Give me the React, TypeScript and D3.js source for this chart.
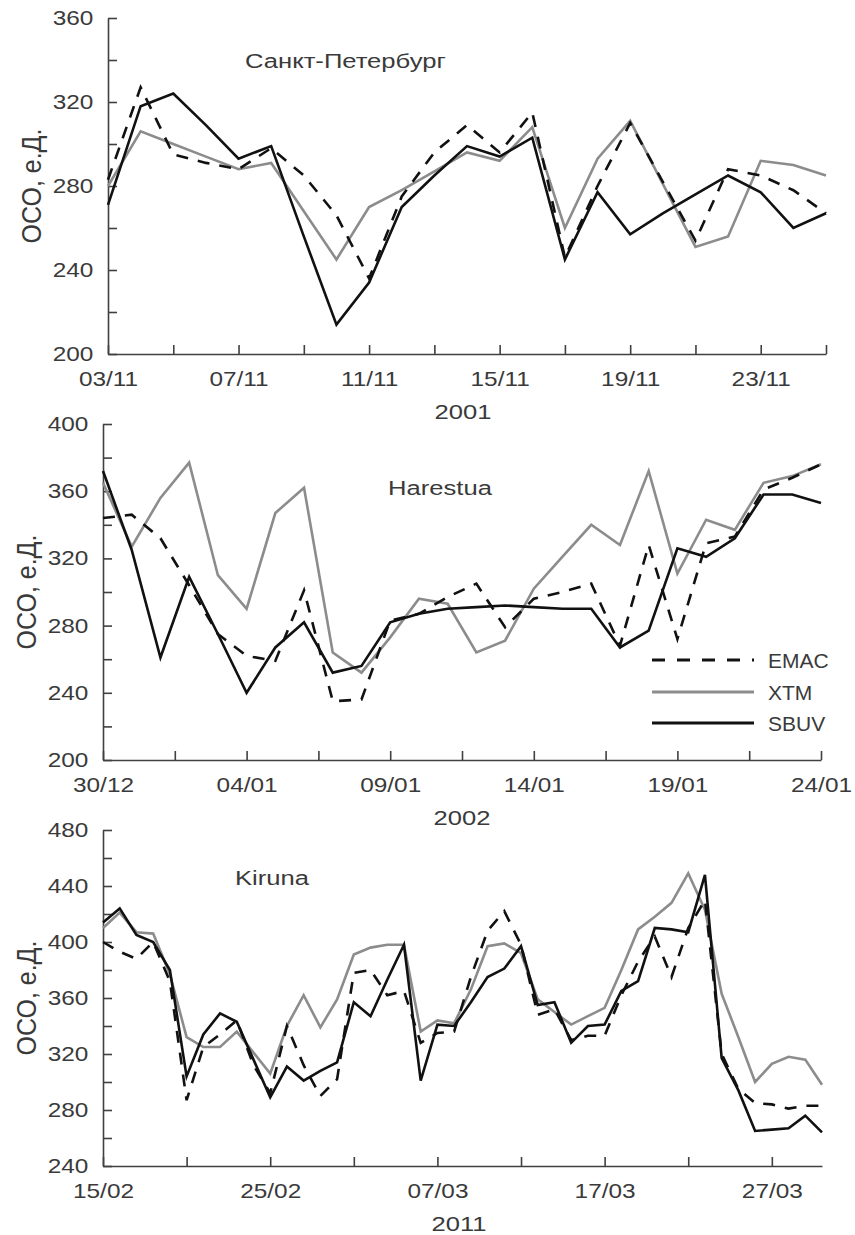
import React, { useEffect, useRef } from 'react';
import * as d3 from 'd3';

// Daily total ozone (ОСО, е.Д.)
const legendNames = ['EMAC', 'XTM', 'SBUV'];

// Санкт-Петербург, 03/11/2001 .. 25/11/2001
const spbStart = '2001-11-03';
const spbEmac = [283, 327, 295, 291, 288, 298, 285, 266, 236, 275, 296, 309, 296, 315, 246, 280, 310, 282, 254, 288, 285, 278, 267];
const spbXtm = [280, 306, 300, 294, 288, 291, 268, 245, 270, 278, 287, 296, 292, 308, 260, 293, 311, 281, 251, 256, 292, 290, 285];
const spbSbuv = [271, 318, 324, 309, 293, 299, 256, 214, 234, 270, 285, 299, 294, 303, 245, 277, 257, 267, 276, 285, 277, 260, 267];

// Harestua, 30/12/2001 .. 24/01/2002
const harStart = '2001-12-30';
const harEmac = [344, 346, 332, 304, 275, 262, 259, 301, 235, 236, 283, 287, 297, 305, 279, 296, 300, 305, 268, 328, 272, 329, 333, 361, 368, 376];
const harXtm = [365, 327, 356, 377, 310, 290, 347, 362, 264, 252, 273, 296, 293, 264, 271, 302, 321, 340, 328, 372, 311, 343, 337, 365, 369, 376];
const harSbuv = [372, 325, 261, 309, 275, 240, 267, 282, 252, 256, 282, 287, 290, 291, 292, 291, 290, 290, 267, 277, 326, 321, 332, 358, 358, 353];

// Kiruna, 15/02/2011 .. 30/03/2011
const kirStart = '2011-02-15';
const kirEmac = [400, 393, 388, 400, 372, 287, 325, 334, 344, 312, 292, 340, 312, 290, 302, 378, 380, 362, 365, 328, 335, 336, 375, 408, 422, 398, 348, 352, 330, 333, 333, 362, 386, 404, 375, 410, 430, 320, 295, 285, 284, 281, 283, 283];
const kirXtm = [410, 421, 407, 406, 377, 332, 325, 325, 336, 321, 306, 340, 362, 339, 359, 391, 396, 398, 398, 336, 344, 342, 366, 397, 399, 392, 359, 350, 341, 347, 353, 380, 409, 418, 428, 449, 423, 363, 332, 300, 313, 318, 316, 298];
const kirSbuv = [414, 424, 405, 400, 380, 304, 334, 349, 343, 316, 289, 311, 301, 308, 314, 357, 347, 373, 398, 301, 341, 340, 357, 375, 381, 397, 355, 357, 328, 340, 341, 365, 372, 410, 409, 407, 448, 317, 294, 265, 266, 267, 276, 264];

const yLabel = 'ОСО, е.Д.';
const FONT = '"Liberation Sans", Arial, Helvetica, sans-serif';
const TEXT = '#3a3a3a';
const SX = 1.22; // the figure is stretched horizontally

const App = () => {
  const svgRef = useRef<SVGSVGElement>(null);

  useEffect(() => {
    const panels = [
      { title: 'Санкт-Петербург', year: '2001', start: spbStart, emac: spbEmac, xtm: spbXtm, sbuv: spbSbuv,
        yDomain: [200, 360], left: 108, right: 826, top: 18, bottom: 354, tickStep: 2, labelStep: 4,
        titleX: 245, titleY: 68, ylabX: 33, yearX: 463, legend: false },
      { title: 'Harestua', year: '2002', start: harStart, emac: harEmac, xtm: harXtm, sbuv: harSbuv,
        yDomain: [200, 400], left: 103, right: 821, top: 424, bottom: 760, tickStep: 2.5, labelStep: 5,
        titleX: 388, titleY: 495, ylabX: 28, yearX: 462, legend: true },
      { title: 'Kiruna', year: '2011', start: kirStart, emac: kirEmac, xtm: kirXtm, sbuv: kirSbuv,
        yDomain: [240, 480], left: 103, right: 822, top: 830, bottom: 1166, tickStep: 5, labelStep: 10,
        titleX: 235, titleY: 885, ylabX: 28, yearX: 459, legend: false },
    ];

    const svg = d3.select(svgRef.current);
    svg.selectAll('*').remove();

    const parse = d3.utcParse('%Y-%m-%d');
    const fmt = d3.utcFormat('%d/%m');

    panels.forEach(p => {
      const n = p.sbuv.length - 1;
      const t0 = parse(p.start) as Date;
      const dayAt = (i: number) => new Date(t0.getTime() + i * 864e5);

      const x = d3.scaleUtc().domain([t0, dayAt(n)]).range([p.left, p.right]);
      const y = d3.scaleLinear().domain(p.yDomain).range([p.bottom, p.top]);

      const g = svg.append('g');

      // X axis, ticks pointing inward
      const ticks = d3.range(0, n + 1e-6, p.tickStep);
      const xAxis = d3.axisBottom(x)
        .tickValues(ticks.map(dayAt))
        .tickSizeInner(-9)
        .tickSizeOuter(0)
        .tickPadding(18)
        .tickFormat((d: any, i: number) => (ticks[i] % p.labelStep === 0 ? fmt(d) : ''));

      const gx = g.append('g')
        .attr('transform', `translate(0,${p.bottom})`)
        .call(xAxis as any);

      // Y axis
      const yTicks = d3.range(p.yDomain[0], p.yDomain[1] + 1, 20);
      const yAxis = d3.axisLeft(y)
        .tickValues(yTicks)
        .tickSizeInner(-9)
        .tickSizeOuter(0)
        .tickPadding(12)
        .tickFormat((d: any) => (d % 40 === 0 ? String(d) : ''));

      const gy = g.append('g')
        .attr('transform', `translate(${p.left},0)`)
        .call(yAxis as any);

      [gx, gy].forEach(a => {
        a.attr('font-family', FONT).attr('font-size', 20).attr('color', '#404040');
        a.select('.domain').attr('stroke-width', 1.6);
        a.selectAll('.tick line').attr('stroke-width', 1.6);
        a.selectAll('text').attr('fill', TEXT).attr('transform', `scale(${SX},1)`);
      });

      // Series
      const line = d3.line<number>()
        .x((_, i) => x(dayAt(i)))
        .y(d => y(d));

      g.append('path')
        .datum(p.xtm)
        .attr('fill', 'none')
        .attr('stroke', '#8c8c8c')
        .attr('stroke-width', 2.6)
        .attr('d', line);

      g.append('path')
        .datum(p.emac)
        .attr('fill', 'none')
        .attr('stroke', '#111')
        .attr('stroke-width', 2.6)
        .attr('stroke-dasharray', '12,10')
        .attr('d', line);

      g.append('path')
        .datum(p.sbuv)
        .attr('fill', 'none')
        .attr('stroke', '#111')
        .attr('stroke-width', 2.6)
        .attr('d', line);

      // Station name
      g.append('text')
        .attr('transform', `translate(${p.titleX},${p.titleY}) scale(${SX},1)`)
        .attr('font-family', FONT)
        .attr('font-size', 21)
        .attr('fill', TEXT)
        .text(p.title);

      // Year under the axis
      g.append('text')
        .attr('transform', `translate(${p.yearX},${p.bottom + 65}) scale(${SX},1)`)
        .attr('text-anchor', 'middle')
        .attr('font-family', FONT)
        .attr('font-size', 21)
        .attr('fill', TEXT)
        .text(p.year);

      // Y label
      g.append('text')
        .attr('transform', `translate(${p.ylabX + 8},${(p.top + p.bottom) / 2}) scale(1.12,1) rotate(-90)`)
        .attr('text-anchor', 'middle')
        .attr('font-family', FONT)
        .attr('font-size', 25)
        .attr('fill', TEXT)
        .text(yLabel);

      if (p.legend) {
        const styles = [
          { stroke: '#111', dash: '13,12' },
          { stroke: '#8c8c8c', dash: null },
          { stroke: '#111', dash: null },
        ];
        const ly = [660, 692, 723];
        legendNames.forEach((name, k) => {
          g.append('line')
            .attr('x1', 652).attr('x2', 754)
            .attr('y1', ly[k]).attr('y2', ly[k])
            .attr('stroke', styles[k].stroke)
            .attr('stroke-width', 2.8)
            .attr('stroke-dasharray', styles[k].dash);
          g.append('text')
            .attr('x', 768)
            .attr('y', ly[k] + 7.5)
            .attr('font-family', FONT)
            .attr('font-size', 21)
            .attr('fill', TEXT)
            .text(name);
        });
      }
    });
  }, []);

  return (
    <svg
      ref={svgRef}
      width={855}
      height={1235}
      style={{ position: 'absolute', left: 0, top: 0, background: '#fff' }}
    />
  );
};

export default App;
